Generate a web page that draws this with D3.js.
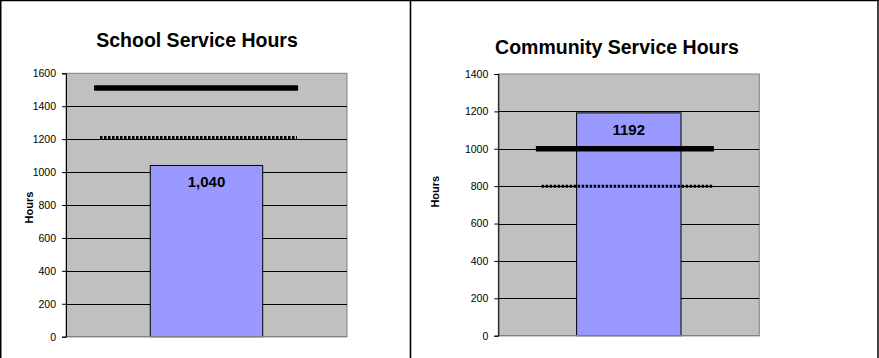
<!DOCTYPE html>
<html><head><meta charset="utf-8">
<script src="https://cdn.jsdelivr.net/npm/d3@7"></script>
<style>
html,body{margin:0;padding:0;background:#fff;}
svg{display:block;font-family:"Liberation Sans",Arial,sans-serif;}
</style></head>
<body>
<svg id="c" width="879" height="358"></svg>
<script>
// ---- data ----
const titles = ["School Service Hours", "Community Service Hours"];
const categories = ["Hours"];
const barValues = [1040, 1192];
const barLabels = ["1,040", "1192"];
const goalValues = [1510, 1000];      // thick solid line
const minimumValues = [1210, 800];    // dotted line
const yMax = [1600, 1400];
const yTicks = [
  [0, 200, 400, 600, 800, 1000, 1200, 1400, 1600],
  [0, 200, 400, 600, 800, 1000, 1200, 1400]
];
const axisTitle = "Hours";

// ---- layout ----
const panels = [
  {plot: {l: 66, r: 347, t: 73.3, b: 336.7}, titleX: 197, titleY: 47, axisX: 28.5, axisY: 207.5,
   goalExt: [0.1, 0.826], minExt: [0.121, 0.822]},
  {plot: {l: 498.3, r: 759.3, t: 74, b: 335.7}, titleX: 617, titleY: 53.5, axisX: 435, axisY: 191.7,
   goalExt: [0.144, 0.826], minExt: [0.166, 0.822]}
];

const svg = d3.select("#c");

// outer borders
svg.append("line").attr("x1", 0).attr("x2", 879).attr("y1", 0.5).attr("y2", 0.5).attr("stroke", "#000").attr("stroke-width", 1.5);
svg.append("line").attr("x1", 0.75).attr("x2", 0.75).attr("y1", 0).attr("y2", 358).attr("stroke", "#000").attr("stroke-width", 1.5);
svg.append("line").attr("x1", 410.5).attr("x2", 410.5).attr("y1", 0).attr("y2", 358).attr("stroke", "#000").attr("stroke-width", 1.6);
svg.append("line").attr("x1", 878).attr("x2", 878).attr("y1", 0).attr("y2", 358).attr("stroke", "#000").attr("stroke-width", 1.5);

panels.forEach((p, i) => {
  const g = svg.append("g");
  const P = p.plot;
  const y = d3.scaleLinear().domain([0, yMax[i]]).range([P.b, P.t]);
  const x = d3.scaleBand().domain(categories).range([P.l, P.r]).paddingInner(0.6).paddingOuter(0.3);
  const xf = d3.scaleLinear().domain([0, 1]).range([P.l, P.r]);

  g.append("rect").attr("x", P.l).attr("y", P.t).attr("width", P.r - P.l).attr("height", P.b - P.t)
    .attr("fill", "#C0C0C0").attr("stroke", "#808080").attr("stroke-width", 1);

  g.selectAll("line.grid").data(yTicks[i].filter(v => v > 0 && v < yMax[i])).join("line")
    .attr("class", "grid")
    .attr("x1", P.l).attr("x2", P.r)
    .attr("y1", d => Math.round(y(d)) + 0.5).attr("y2", d => Math.round(y(d)) + 0.5)
    .attr("stroke", "#000").attr("stroke-width", 1);

  g.selectAll("rect.bar").data([barValues[i]]).join("rect")
    .attr("class", "bar")
    .attr("x", x(categories[0])).attr("width", x.bandwidth())
    .attr("y", d => y(d)).attr("height", d => P.b - y(d))
    .attr("fill", "#9999FF").attr("stroke", "#000").attr("stroke-width", 1);

  g.append("line").attr("x1", P.l).attr("x2", P.r).attr("y1", P.b).attr("y2", P.b)
    .attr("stroke", "#808080").attr("stroke-width", 1.2);

  g.selectAll("line.goal").data([goalValues[i]]).join("line")
    .attr("class", "goal")
    .attr("x1", xf(p.goalExt[0])).attr("x2", xf(p.goalExt[1]))
    .attr("y1", d => y(d)).attr("y2", d => y(d))
    .attr("stroke", "#000").attr("stroke-width", 5.5);

  g.selectAll("line.min").data([minimumValues[i]]).join("line")
    .attr("class", "min")
    .attr("x1", xf(p.minExt[0])).attr("x2", xf(p.minExt[1]))
    .attr("y1", d => y(d)).attr("y2", d => y(d))
    .attr("stroke", "#000").attr("stroke-width", 3).attr("stroke-dasharray", "2.5,1.5");

  const ax = d3.axisLeft(y).tickValues(yTicks[i]).tickSize(4).tickPadding(6).tickFormat(d3.format("d"));
  const axg = g.append("g").attr("transform", `translate(${P.l},0)`).call(ax);
  axg.select(".domain").attr("stroke", "#000");
  axg.selectAll(".tick line").attr("stroke", "#000");
  axg.selectAll(".tick text").attr("font-size", 10.5).attr("fill", "#000")
    .attr("font-family", "'Liberation Sans', Arial, sans-serif");

  g.append("text").attr("x", x(categories[0]) + x.bandwidth() / 2).attr("y", y(barValues[i]) + 22)
    .attr("text-anchor", "middle").attr("font-size", 15).attr("font-weight", "bold").attr("fill", "#000")
    .text(barLabels[i]);

  g.append("text").attr("x", p.titleX).attr("y", p.titleY).attr("text-anchor", "middle")
    .attr("font-size", 19.5).attr("font-weight", "bold").attr("fill", "#000").text(titles[i]);

  g.append("text").attr("transform", `translate(${p.axisX + 4},${p.axisY}) rotate(-90)`)
    .attr("text-anchor", "middle").attr("font-size", 11).attr("font-weight", "bold").attr("fill", "#000")
    .text(axisTitle);
});
</script>
</body></html>
